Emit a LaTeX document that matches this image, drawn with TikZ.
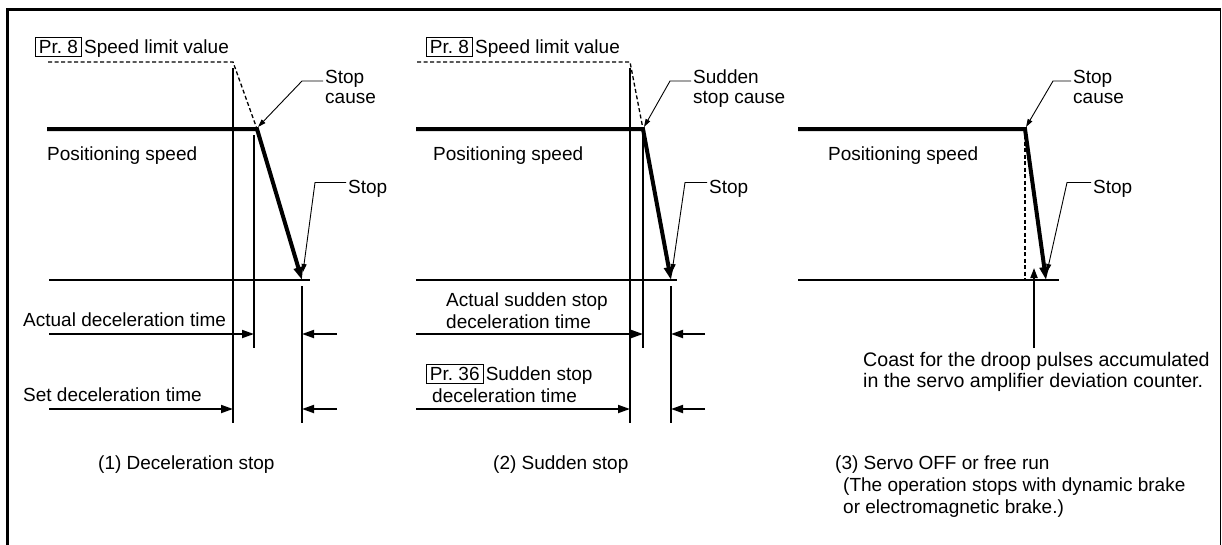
\documentclass[tikz,border=0pt]{standalone}
\usepackage{fontspec}
\setmainfont{Liberation Sans}
\usetikzlibrary{arrows.meta,positioning}
\tikzset{
  every node/.style={font=\fontsize{19}{21}\selectfont},
  lbl/.style={inner sep=0pt,anchor=base west},
  prbox/.style={draw,line width=0.9pt,inner xsep=3.5pt,inner ysep=2.5pt,text depth=0pt,anchor=base west},
  guide/.style={line width=1.8pt},
  speed/.style={line width=4pt,-{Triangle[length=13pt,width=9pt]}},
  limit/.style={line width=1.3pt,dash pattern=on 4pt off 2.5pt},
  dim/.style={line width=1.8pt,-{Triangle[length=12pt,width=8pt]}},
  coast/.style={line width=1.8pt,-{Triangle[length=10pt,width=7pt]}},
  leader/.style={line width=0.9pt,-{Triangle[length=8pt,width=5pt]}},
  frameline/.style={line width=3.3pt},
}

\begin{document}
\begin{tikzpicture}[x=1pt,y=-1pt]
\useasboundingbox (0,0) rectangle (1222,544);

% frame
\draw[frameline] (7.5,548) -- (7.5,9.5) -- (1220.5,9.5);
\draw[line width=1.5pt] (1220.5,9.5) -- (1220.5,548);

% Panel 1: deceleration stop
\coordinate (spdA) at (47,129);
\coordinate (cauA) at (257,129);
\coordinate (endA) at (302,280);
\node[prbox] (prA) at (35,53.5) {Pr.\ 8};
\node[lbl,xshift=2pt] (slvA) at (prA.base east) {Speed limit value};
\draw[limit] (48,62) -- (233,62) -- (cauA);
\draw[guide] (233,68) -- (233,423);
\draw[guide] (254,135) -- (254,348);
\draw[guide] (302,286) -- (302,423);
\draw[guide] (49,280) -- (310,280);
\draw[speed] (spdA) -- (cauA) -- (endA);
\node[lbl] (scA) at (325,83) {Stop};
\node[lbl,below=20pt of scA.base west,anchor=base west] (scA2) {cause};
\draw[leader] ([shift={(-2,-2)}]scA.base west) -- ++(-21,0) -- ([shift={(1,-2)}]cauA);
\node[lbl] (psA) at (47,160) {Positioning speed};
\node[lbl] (stA) at (348,193) {Stop};
\draw[leader] ([shift={(-2,3)}]stA.north west) -- ++(-31,0) -- ([shift={(1,-8)}]endA);
\node[lbl] (adA) at (23,326) {Actual deceleration time};
\draw[dim] (49,334) -- (254,334);
\draw[dim] (337,334) -- (302,334);
\node[lbl] (sdA) at (23,401) {Set deceleration time};
\draw[dim] (49,409) -- (233,409);
\draw[dim] (337,409) -- (302,409);
\node[lbl] (capA) at (98,469) {(1) Deceleration stop};

% Panel 2: sudden stop
\coordinate (spdB) at (416,129);
\coordinate (cauB) at (643,129);
\coordinate (endB) at (671,280);
\node[prbox] (prB) at (426,53.5) {Pr.\ 8};
\node[lbl,xshift=2pt] (slvB) at (prB.base east) {Speed limit value};
\draw[limit] (417,62) -- (630,62) -- (cauB);
\draw[guide] (630,68) -- (630,423);
\draw[guide] (643,135) -- (643,348);
\draw[guide] (671,286) -- (671,423);
\draw[guide] (416,280) -- (677,280);
\draw[speed] (spdB) -- (cauB) -- (endB);
\node[lbl] (scB) at (693,83) {Sudden};
\node[lbl,below=20pt of scB.base west,anchor=base west] (scB2) {stop cause};
\draw[leader] ([shift={(-2,-2)}]scB.base west) -- ++(-21,0) -- ([shift={(1,-2)}]cauB);
\node[lbl] (psB) at (433,160) {Positioning speed};
\node[lbl] (stB) at (709,193) {Stop};
\draw[leader] ([shift={(-2,3)}]stB.north west) -- ++(-22,0) -- ([shift={(1,-8)}]endB);
\node[lbl] (adB) at (446,306) {Actual sudden stop};
\node[lbl,below=22pt of adB.base west,anchor=base west] (adB2) {deceleration time};
\draw[dim] (416,334) -- (643,334);
\draw[dim] (705,334) -- (671,334);
\node[prbox] (prC) at (426,380.5) {Pr.\ 36};
\node[lbl,xshift=2pt] (sdB) at (prC.base east) {Sudden stop};
\node[lbl] (sdB2) at (432,402) {deceleration time};
\draw[dim] (416,409) -- (630,409);
\draw[dim] (705,409) -- (671,409);
\node[lbl] (capB) at (493,469) {(2) Sudden stop};

% Panel 3: servo OFF or free run
\coordinate (spdC) at (798,129);
\coordinate (cauC) at (1025,129);
\coordinate (endC) at (1046,280);
\coordinate (dropC) at (1034,268);
\draw[limit] (1025,135) -- (1025,280);
\draw[guide] (798,280) -- (1059,280);
\draw[speed] (spdC) -- (cauC) -- (endC);
\node[lbl] (scC) at (1073,83) {Stop};
\node[lbl,below=20pt of scC.base west,anchor=base west] (scC2) {cause};
\draw[leader] ([shift={(-2,-2)}]scC.base west) -- ++(-18,0) -- ([shift={(1,-2)}]cauC);
\node[lbl] (psC) at (828,160) {Positioning speed};
\node[lbl] (stC) at (1093,193) {Stop};
\draw[leader] ([shift={(-2,3)}]stC.north west) -- ++(-24,0) -- ([shift={(1,-8)}]endC);
\node[lbl,font=\fontsize{19.6}{21}\selectfont] (cstC) at (863,366) {Coast for the droop pulses accumulated};
\node[lbl,font=\fontsize{19.6}{21}\selectfont,below=21pt of cstC.base west,anchor=base west] (cstC2) {in the servo amplifier deviation counter.};
\draw[coast] (1034,348) -- (dropC);
\node[lbl] (capC) at (835,469) {(3) Servo OFF or free run};
\node[lbl] (capC2) at (843,491) {(The operation stops with dynamic brake};
\node[lbl,below=22pt of capC2.base west,anchor=base west] (capC3) {or electromagnetic brake.)};

\end{tikzpicture}
\end{document}
